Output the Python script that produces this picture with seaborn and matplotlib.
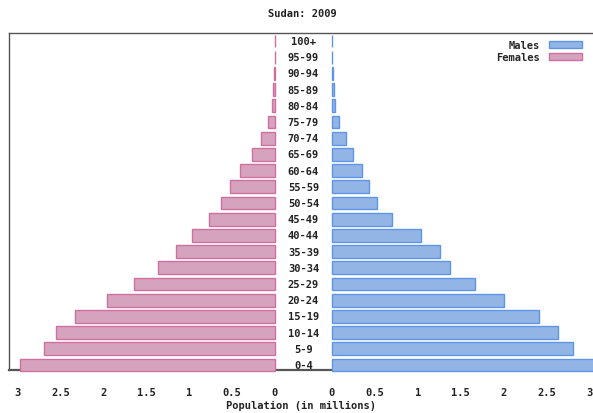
import matplotlib
matplotlib.use("Agg")
import matplotlib.pyplot as plt
import matplotlib.patches as mpatches
import pandas as pd
import seaborn as sns

# age groups, top to bottom
ages = ["100+", "95-99", "90-94", "85-89", "80-84", "75-79", "70-74", "65-69",
        "60-64", "55-59", "50-54", "45-49", "40-44", "35-39", "30-34", "25-29",
        "20-24", "15-19", "10-14", "5-9", "0-4"]
# population in millions
males = [0.003, 0.005, 0.01, 0.02, 0.04, 0.085, 0.163, 0.25, 0.345, 0.43, 0.52,
         0.70, 1.04, 1.256, 1.38, 1.67, 2.01, 2.41, 2.64, 2.81, 3.1]
females = [0.003, 0.005, 0.01, 0.02, 0.04, 0.082, 0.163, 0.27, 0.405, 0.53, 0.63,
           0.77, 0.965, 1.16, 1.37, 1.645, 1.96, 2.33, 2.55, 2.70, 2.975]
ticks = [0, 0.5, 1, 1.5, 2, 2.5, 3]
tick_labels = ["0", "0.5", "1", "1.5", "2", "2.5", "3"]

df = pd.DataFrame({"age": ages, "Males": males, "Females": females})

sns.set_theme(style="white")
plt.rcParams["font.family"] = ["DejaVu Sans Mono"]
plt.rcParams["font.weight"] = "bold"
FS = 7.5

W, H = 593, 414
fig = plt.figure(figsize=(W / 100, H / 100), dpi=100)

def fx(px):
    return px / W

def fy(px):
    return 1 - px / H

top_px, bot_px = 34, 371

# frame
bg = fig.add_axes([fx(9), fy(bot_px), fx(600 - 9), fy(top_px) - fy(bot_px)])
bg.set_xticks([]); bg.set_yticks([])
for s in ["top", "left", "bottom"]:
    bg.spines[s].set_color("#555555")
bg.spines["right"].set_visible(False)
bg.spines["bottom"].set_linewidth(1.6)
bg.spines["top"].set_linewidth(1.0)
bg.spines["left"].set_linewidth(1.0)
bg.patch.set_alpha(0)

ax_l = fig.add_axes([fx(9), fy(bot_px), fx(275 - 9), fy(top_px) - fy(bot_px)])
ax_r = fig.add_axes([fx(332), fy(bot_px), fx(600 - 332), fy(top_px) - fy(bot_px)])

sns.barplot(data=df, x="Females", y="age", orient="h", ax=ax_l, color="#d6a3bf",
            edgecolor="#cf6f9f", linewidth=1.0, width=0.8, saturation=1)
sns.barplot(data=df, x="Males", y="age", orient="h", ax=ax_r, color="#93b5e6",
            edgecolor="#5e95e6", linewidth=1.0, width=0.8, saturation=1)

px_per_m = 85.7
ylim = (20 + (bot_px - 366) / 16.2, -(42 - top_px) / 16.2)
ax_l.set_xlim((275 - 9) / px_per_m, 0)
ax_r.set_xlim(0, (600 - 332) / px_per_m)
for ax in (ax_l, ax_r):
    ax.set_ylim(*ylim)
    ax.set_xlabel("")
    ax.set_ylabel("")
    ax.set_yticks([])
    ax.set_xticks(ticks)
    ax.set_xticklabels(tick_labels, fontsize=FS, fontweight="bold", color="#222222")
    ax.tick_params(axis="x", length=0, pad=12)
    for s in ax.spines.values():
        s.set_visible(False)
    ax.patch.set_alpha(0)
    for p in ax.patches:
        p.set_clip_on(False)

# age labels in the gap
for i, a in enumerate(ages):
    ax_r.text(-(332 - 303.5) / px_per_m, i, a, ha="center", va="center",
              fontsize=FS, fontweight="bold", color="#222222", clip_on=False)

fig.text(fx(302), fy(14), "Sudan: 2009", ha="center", va="center",
         fontsize=FS, fontweight="bold", color="#222222")
fig.text(fx(301), fy(406), "Population (in millions)", ha="center", va="center",
         fontsize=FS, fontweight="bold", color="#222222")

handles = [mpatches.Patch(facecolor="#93b5e6", edgecolor="#5e95e6", label="Males"),
           mpatches.Patch(facecolor="#d6a3bf", edgecolor="#cf6f9f", label="Females")]
fig.legend(handles=handles, loc="upper right", bbox_to_anchor=(fx(586), fy(37)),
           frameon=False, markerfirst=False, fontsize=FS, handlelength=3.2,
           handleheight=0.75, labelspacing=0.2, handletextpad=0.8, borderaxespad=0)

fig.savefig("out.png", dpi=100)
